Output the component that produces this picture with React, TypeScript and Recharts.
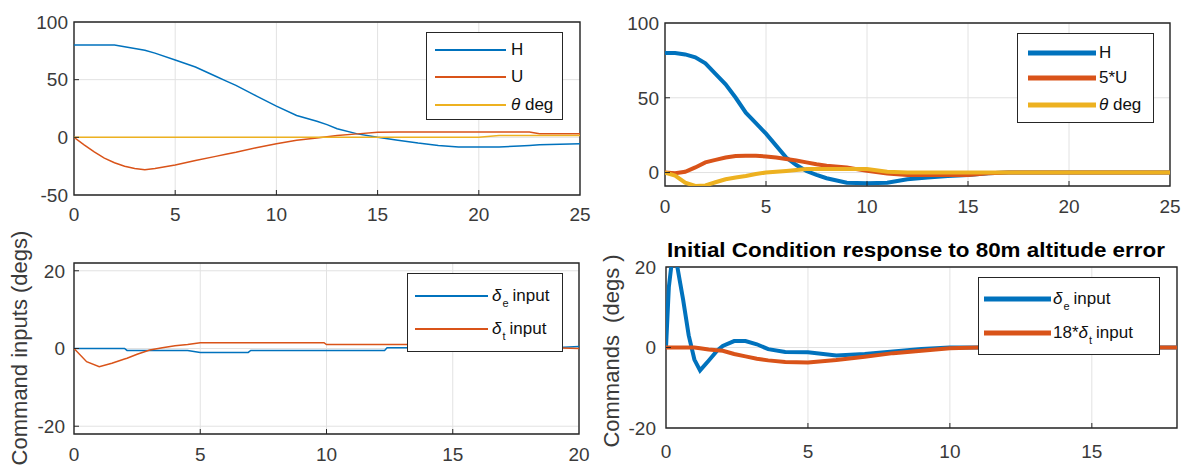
import React from "react";
import {
  LineChart,
  Line,
  XAxis,
  YAxis,
  CartesianGrid,
  ReferenceArea,
  Legend,
} from "recharts";

const FONT = '"Liberation Sans", Arial, Helvetica, sans-serif';
const BLUE = "#0072BD";
const ORANGE = "#D95319";
const YELLOW = "#EDB120";
const TICK = "#3a3a3a";

// top left: H, U, theta vs time
const tlTime = [0, 0.5, 1, 1.5, 2, 2.5, 3, 3.5, 4, 5, 6, 7, 7.5, 8, 9, 10, 11, 12, 12.5, 13, 14, 15, 16, 17, 18, 19, 20, 21, 22, 22.5, 23, 24, 25];
const tlH = [80, 80, 80, 80, 80, 78.5, 77, 75.5, 73, 67, 61, 53, 49, 45, 36, 27, 19, 14, 11, 7.5, 3, 0, -2.5, -5, -7, -8.4, -8.4, -8.4, -7.5, -7, -6.5, -6, -5.5];
const tlU = [0, -6.5, -12.7, -18, -22, -25, -27, -28, -27, -24, -20, -16.5, -14.7, -13, -9, -5.5, -2.5, -0.5, 0.5, 1.5, 3, 4.5, 4.6, 4.6, 4.6, 4.6, 4.6, 4.6, 4.6, 4.6, 3.2, 3, 3];
const tlTheta = [0, 0, 0, 0, 0, 0, 0, 0, 0, 0, 0, 0, 0, 0, 0, 0, 0, 0, 0, 0, 0, 0, 0, 0, 0, 0, 0, 1.5, 1.5, 1.5, 1.5, 1.5, 1.5];

// top right: H, 5*U, theta
const trTime = [0, 0.5, 1, 1.5, 2, 2.5, 3, 3.5, 4, 4.5, 5, 5.5, 6, 6.5, 7, 7.5, 8, 9, 10, 11, 12, 13, 14, 15, 16, 17, 18, 20, 22, 25];
const trH = [80, 80, 79, 77, 73, 66, 59, 50, 40, 33, 26, 18, 10, 5, 1, -1.5, -3.8, -6.8, -7.2, -6.8, -4.5, -3.4, -2.3, -1.6, -0.5, 0, 0, 0, 0, 0];
const trU5 = [0, -0.5, 0.5, 3.4, 6.8, 8.5, 10, 11, 11.3, 11.2, 10.8, 10, 9, 8, 6.8, 5.5, 4.5, 3.4, 1.1, -0.7, -1.6, -1.6, -1.6, -1.6, -0.5, 0, 0, 0, 0, 0];
const trTheta = [0, -2, -6.8, -9, -8.6, -6.5, -4.5, -3.3, -2.3, -1, 0, 0.5, 1.1, 1.7, 2.3, 2.3, 2.3, 2.3, 2.3, 0.5, 0, 0, 0, 0, 0, 0, 0, 0, 0, 0];

// bottom left: command inputs
const blTime = [0, 0.5, 1, 1.5, 2, 2.1, 2.5, 3, 3.5, 4, 4.5, 5, 6, 6.9, 7, 9.9, 10, 12.3, 12.4, 15, 16, 18, 19, 20];
const blDe = [0, 0, 0, 0, 0, -0.5, -0.5, -0.5, -0.5, -0.5, -0.5, -1, -1, -1, -0.5, -0.5, -0.5, -0.5, 0.2, 0.2, 0.2, 0.2, 0.2, 0.5];
const blDt = [0, -3.4, -4.7, -3.8, -2.7, -2.5, -1.5, -0.4, 0.2, 0.7, 1, 1.5, 1.5, 1.5, 1.5, 1.5, 1.0, 1.0, 1.0, 1.0, 1.0, 0.5, 0.2, 0];

// bottom right: commands
const brTime = [0, 0.1, 0.2, 0.3, 0.4, 0.5, 0.6, 0.8, 1.0, 1.2, 1.5, 1.8, 2.0, 2.4, 2.8, 3.2, 3.6, 4.2, 5, 6, 7, 8, 9, 10, 11, 12, 14, 16, 18];
const brDe = [0, 15, 21, 22, 20, 16, 12, 3, -3, -5.7, -3.3, -0.8, 0.4, 1.6, 1.6, 0.8, -0.4, -1.1, -1.2, -2.0, -1.6, -1.0, -0.4, 0, 0, 0, 0, 0, 0];
const brDt18 = [0, 0, 0, 0, 0, 0, 0, 0, 0, -0.2, -0.5, -0.7, -0.8, -1.6, -2.2, -2.8, -3.2, -3.6, -3.7, -3.1, -2.3, -1.4, -0.8, -0.2, 0, 0, 0, 0, 0];

const xTicks25 = [0, 5, 10, 15, 20, 25];
const xTicks20 = [0, 5, 10, 15, 20];
const xTicks18 = [0, 5, 10, 15];

const toRows = (t: number[], cols: Record<string, number[]>) =>
  t.map((v, i) => {
    const row: Record<string, number> = { t: v };
    Object.keys(cols).forEach((k) => (row[k] = cols[k][i]));
    return row;
  });

const theta = (
  <>
    <i>θ</i> deg
  </>
);
const delta = (sub: string, pre = "") => (
  <>
    {pre}
    <i>δ</i>
    <span style={{ fontSize: 11, position: "relative", top: 6, marginLeft: 1, marginRight: 4 }}>{sub}</span>
    input
  </>
);

type Series = { key: string; color: string; label: React.ReactNode };

function LegendBox({ series, box, rowsY, lineX, textX, sw }: any) {
  return (
    <div
      style={{
        position: "relative",
        width: box.w,
        height: box.h,
        border: "1.3px solid #262626",
        background: "#fff",
        boxSizing: "border-box",
        fontFamily: FONT,
        fontSize: 17,
        color: "#111",
      }}
    >
      {series.map((s: Series, i: number) => (
        <React.Fragment key={s.key}>
          <svg style={{ position: "absolute", left: 0, top: 0 }} width={box.w} height={box.h}>
            <line x1={lineX[0]} x2={lineX[1]} y1={rowsY[i]} y2={rowsY[i]} stroke={s.color} strokeWidth={sw} />
          </svg>
          <div style={{ position: "absolute", left: textX, top: rowsY[i] - 10, lineHeight: "20px", whiteSpace: "nowrap" }}>
            {s.label}
          </div>
        </React.Fragment>
      ))}
    </div>
  );
}

// tick label plus a short inward tick mark, MATLAB style
const xTick = (gap: number, edges: number[]) => (props: any) => {
  const { x, y, payload } = props;
  const base = y - gap;
  const onEdge = edges.includes(payload.value);
  return (
    <g>
      {!onEdge && <line x1={x} x2={x} y1={base} y2={base - 5} stroke="#262626" strokeWidth={1} />}
      <text x={x} y={y} dy="0.71em" textAnchor="middle" fill={TICK} fontSize={19} fontFamily={FONT}>
        {payload.value}
      </text>
    </g>
  );
};
const yTick = (gap: number, edges: number[]) => (props: any) => {
  const { x, y, payload } = props;
  const base = x + gap;
  const onEdge = edges.includes(payload.value);
  return (
    <g>
      {!onEdge && <line x1={base} x2={base + 5} y1={y} y2={y} stroke="#262626" strokeWidth={1} />}
      <text x={x} y={y} dy="0.355em" textAnchor="end" fill={TICK} fontSize={19} fontFamily={FONT}>
        {payload.value}
      </text>
    </g>
  );
};

function Panel(p: any) {
  return (
    <div style={{ position: "absolute", left: p.left, top: p.top }}>
      <LineChart width={p.width} height={p.height} data={p.data} margin={p.margin}>
        <CartesianGrid stroke="#e2e2e2" strokeWidth={1} />
        <XAxis
          dataKey="t"
          type="number"
          domain={p.xDomain}
          ticks={p.xTicks}
          interval={0}
          height={p.xAxisHeight}
          axisLine={false}
          tickLine={false}
          tickSize={6}
          tickMargin={p.xTickMargin}
          tick={xTick(6 + p.xTickMargin, p.xDomain)}
          allowDataOverflow
        />
        <YAxis
          type="number"
          domain={p.yDomain}
          ticks={p.yTicks}
          interval={0}
          width={p.yAxisWidth}
          axisLine={false}
          tickLine={false}
          tickSize={6}
          tickMargin={p.yTickMargin}
          tick={yTick(6 + p.yTickMargin, p.yDomain)}
          allowDataOverflow
        />
        {p.series.map((s: Series) => (
          <Line
            key={s.key}
            dataKey={s.key}
            type="linear"
            stroke={s.color}
            strokeWidth={p.sw}
            dot={false}
            activeDot={false}
            isAnimationActive={false}
          />
        ))}
        <ReferenceArea
          x1={p.xDomain[0]}
          x2={p.xDomain[1]}
          y1={p.yDomain[0]}
          y2={p.yDomain[1]}
          fill="none"
          stroke="#262626"
          strokeWidth={1.4}
          ifOverflow="visible"
        />
        <Legend
          layout="vertical"
          align="center"
          verticalAlign="middle"
          wrapperStyle={{ left: p.legend.x, top: p.legend.y, width: p.legend.box.w, height: p.legend.box.h }}
          content={() => <LegendBox series={p.series} {...p.legend} sw={p.legendSw} />}
        />
      </LineChart>
    </div>
  );
}

function AxisTitle({ x, y, text }: { x: number; y: number; text: string }) {
  return (
    <div
      style={{
        position: "absolute",
        left: x,
        top: y,
        transform: "translate(-50%, -50%) rotate(-90deg)",
        whiteSpace: "pre",
        fontSize: 22,
        lineHeight: "22px",
        color: TICK,
        fontFamily: FONT,
      }}
    >
      {text}
    </div>
  );
}

export default function App() {
  const tlData = toRows(tlTime, { h: tlH, u: tlU, th: tlTheta });
  const trData = toRows(trTime, { h: trH, u: trU5, th: trTheta });
  const blData = toRows(blTime, { de: blDe, dt: blDt });
  const brData = toRows(brTime, { de: brDe, dt: brDt18 });

  return (
    <div style={{ position: "absolute", left: 0, top: 0, width: 1191, height: 472, background: "#fff", overflow: "hidden", fontFamily: FONT }}>
      <Panel
        left={0}
        top={0}
        width={600}
        height={235}
        margin={{ top: 22, right: 20, bottom: 0, left: 0 }}
        yAxisWidth={74}
        xAxisHeight={40}
        xTickMargin={7}
        yTickMargin={0}
        data={tlData}
        xDomain={[0, 25]}
        xTicks={xTicks25}
        yDomain={[-50, 100]}
        yTicks={[-50, 0, 50, 100]}
        sw={1.5}
        legendSw={2}
        series={[
          { key: "h", color: BLUE, label: "H" },
          { key: "u", color: ORANGE, label: "U" },
          { key: "th", color: YELLOW, label: theta },
        ]}
        legend={{ x: 426, y: 32, box: { w: 137, h: 88 }, rowsY: [17, 44, 72], lineX: [8, 79], textX: 84 }}
      />
      <Panel
        left={600}
        top={0}
        width={591}
        height={235}
        margin={{ top: 23, right: 21, bottom: 0, left: 0 }}
        yAxisWidth={65}
        xAxisHeight={49}
        xTickMargin={8}
        yTickMargin={0}
        data={trData}
        xDomain={[0, 25]}
        xTicks={xTicks25}
        yDomain={[-9, 100]}
        yTicks={[0, 50, 100]}
        sw={4}
        legendSw={5}
        series={[
          { key: "h", color: BLUE, label: "H" },
          { key: "u", color: ORANGE, label: "5*U" },
          { key: "th", color: YELLOW, label: theta },
        ]}
        legend={{ x: 417, y: 33, box: { w: 137, h: 90 }, rowsY: [19, 44, 71], lineX: [10, 78], textX: 81 }}
      />
      <Panel
        left={0}
        top={240}
        width={600}
        height={232}
        margin={{ top: 23, right: 21, bottom: 0, left: 0 }}
        yAxisWidth={74}
        xAxisHeight={38}
        xTickMargin={8}
        yTickMargin={3}
        data={blData}
        xDomain={[0, 20]}
        xTicks={xTicks20}
        yDomain={[-22, 22]}
        yTicks={[-20, 0, 20]}
        sw={1.5}
        legendSw={2}
        series={[
          { key: "de", color: BLUE, label: delta("e") },
          { key: "dt", color: ORANGE, label: delta("t") },
        ]}
        legend={{ x: 407, y: 33, box: { w: 156, h: 79 }, rowsY: [22, 55], lineX: [7, 80], textX: 84 }}
      />
      <Panel
        left={600}
        top={240}
        width={591}
        height={232}
        margin={{ top: 27, right: 14, bottom: 0, left: 0 }}
        yAxisWidth={66}
        xAxisHeight={44}
        xTickMargin={11}
        yTickMargin={4}
        data={brData}
        xDomain={[0, 18]}
        xTicks={xTicks18}
        yDomain={[-20, 20]}
        yTicks={[-20, 0, 20]}
        sw={4}
        legendSw={5}
        series={[
          { key: "de", color: BLUE, label: delta("e") },
          { key: "dt", color: ORANGE, label: delta("t", "18*") },
        ]}
        legend={{ x: 378, y: 37, box: { w: 182, h: 78 }, rowsY: [21, 55], lineX: [5, 72], textX: 74 }}
      />
      <AxisTitle x={20} y={348} text="Command inputs (degs)" />
      <AxisTitle x={612} y={351} text={"Commands  (degs )"} />
      <div
        style={{
          position: "absolute",
          left: 916,
          top: 241,
          transform: "translateX(-50%) scaleX(1.12)",
          fontWeight: "bold",
          fontSize: 20,
          lineHeight: "18px",
          color: "#000",
          whiteSpace: "nowrap",
        }}
      >
        Initial Condition response to 80m altitude error
      </div>
    </div>
  );
}
